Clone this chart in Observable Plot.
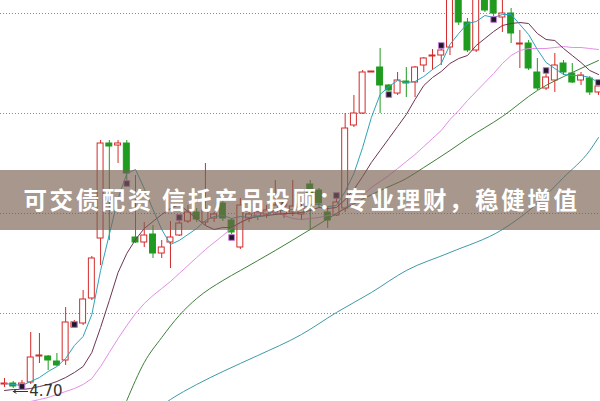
<!DOCTYPE html>
<html><head><meta charset="utf-8">
<script src="https://cdn.jsdelivr.net/npm/d3@7"></script>
<script src="https://cdn.jsdelivr.net/npm/@observablehq/plot@0.6"></script>
<style>
html,body{margin:0;padding:0;background:#fff;}
#wrap{position:relative;width:600px;height:401px;overflow:hidden;}
#wrap svg{display:block;}
#banner{position:absolute;left:0;top:170px;width:600px;height:60px;background:rgba(120,95,80,0.65);display:flex;align-items:center;justify-content:center;}
#banner span{color:#fff;font-family:"Noto Sans CJK SC","Noto Sans",sans-serif;font-weight:700;font-size:23.5px;letter-spacing:2.6px;white-space:nowrap;margin-top:-2px;margin-left:3px;}
</style></head><body>
<div id="wrap"><div id="banner"><span>可交债配资 信托产品投顾：专业理财，稳健增值</span></div></div>
<script>
// daily candles, index 0..68
const opens = [4.74,4.75,4.73,4.76,5.02,5.02,4.97,4.98,5.31,5.35,
  5.60,6.20,7.15,7.13,7.15,6.21,6.16,6.24,6.05,6.16,
  6.23,6.37,6.46,6.36,6.40,6.55,6.38,6.11,6.40,6.42,
  6.44,6.46,6.44,6.46,6.44,6.74,6.68,6.46,6.43,6.50,
  7.33,7.45,7.86,7.91,7.73,7.65,7.77,7.76,7.93,8.02,
  8.03,8.11,8.63,8.36,8.08,8.68,8.58,8.41,8.45,8.14,
  8.15,7.86,7.70,7.78,7.95,7.85,7.78,7.80,7.66];
const highs = [4.80,4.77,4.78,5.26,5.25,5.03,5.05,5.51,5.38,5.68,
  6.02,7.18,7.18,7.18,7.18,6.83,6.36,6.33,6.18,6.37,
  6.39,6.53,6.50,6.95,6.46,6.65,6.40,6.60,6.48,6.50,
  6.53,6.78,6.53,6.78,6.55,6.78,6.70,6.51,6.63,7.45,
  7.63,7.88,7.87,8.10,7.74,7.86,7.91,7.92,8.01,8.09,
  8.10,8.83,8.73,8.40,8.73,8.78,8.63,8.58,8.50,8.28,
  8.18,8.00,7.86,8.05,7.98,7.95,7.86,7.82,7.78];
const lows = [4.71,4.70,4.71,4.74,4.95,4.88,4.92,4.93,5.30,5.33,
  5.58,5.93,6.18,6.95,6.78,6.15,6.11,6.00,6.00,5.90,
  6.22,6.35,6.36,6.33,6.36,6.37,6.24,6.09,6.36,6.38,
  6.40,6.43,6.40,6.42,6.38,6.28,6.51,6.30,6.42,6.46,
  7.31,7.44,7.86,7.45,7.67,7.63,7.61,7.61,7.86,7.88,
  7.93,8.03,8.33,8.06,8.06,8.46,8.42,8.26,8.15,7.90,
  7.88,7.68,7.68,7.66,7.83,7.75,7.73,7.63,7.63];
const closes = [4.75,4.72,4.75,5.01,5.03,4.98,4.93,5.36,5.36,5.59,
  6.00,7.15,7.12,7.15,6.85,6.16,6.23,6.05,6.11,6.21,
  6.35,6.46,6.39,6.48,6.44,6.40,6.26,6.53,6.44,6.46,
  6.48,6.53,6.48,6.52,6.50,6.65,6.55,6.38,6.56,7.30,
  7.45,7.86,7.87,7.73,7.68,7.78,7.75,7.91,8.00,8.03,
  8.08,8.68,8.36,8.08,8.66,8.48,8.45,8.45,8.25,8.15,
  7.90,7.70,7.81,7.93,7.86,7.76,7.83,7.66,7.72];

// moving averages
const ma5 = [4.75,4.74,4.73,4.77,4.81,4.87,4.92,5.00,5.13,5.22,
  5.44,5.88,6.24,6.60,6.85,6.89,6.70,6.49,6.29,6.14,
  6.18,6.24,6.30,6.38,6.42,6.43,6.40,6.42,6.41,6.42,
  6.43,6.49,6.48,6.49,6.50,6.54,6.54,6.52,6.53,6.67,
  6.85,7.11,7.41,7.64,7.72,7.78,7.76,7.77,7.82,7.89,
  7.95,8.14,8.25,8.35,8.37,8.43,8.41,8.44,8.44,8.34,
  8.24,8.09,7.96,7.90,7.84,7.83,7.83,7.81,7.76];
const ma10 = [4.68,4.69,4.69,4.70,4.72,4.74,4.77,4.81,4.86,4.92,
  5.06,5.31,5.58,5.86,6.05,6.19,6.30,6.37,6.44,6.50,
  6.54,6.47,6.40,6.33,6.29,6.31,6.31,6.36,6.40,6.42,
  6.43,6.44,6.45,6.45,6.46,6.48,6.51,6.50,6.51,6.59,
  6.69,6.82,6.96,7.08,7.20,7.32,7.44,7.59,7.73,7.81,
  7.87,7.95,8.00,8.03,8.13,8.20,8.27,8.33,8.35,8.36,
  8.35,8.25,8.19,8.18,8.10,8.03,7.96,7.88,7.84];
const ma20 = [4.53,4.54,4.55,4.57,4.59,4.61,4.64,4.67,4.70,4.74,
  4.80,4.92,5.06,5.20,5.33,5.45,5.55,5.63,5.70,5.77,
  5.85,5.93,6.01,6.09,6.16,6.23,6.30,6.36,6.41,6.45,
  6.48,6.46,6.43,6.40,6.39,6.40,6.41,6.43,6.45,6.51,
  6.56,6.63,6.71,6.77,6.83,6.90,6.97,7.04,7.12,7.20,
  7.28,7.39,7.48,7.58,7.67,7.76,7.85,7.95,8.03,8.08,
  8.10,8.10,8.10,8.11,8.12,8.11,8.11,8.10,8.09];
const ma30Idx = [14,16,18,20,22,25,27,31,35,39,43,46,48,51,53,57,61,65,68];
const ma30 = [4.58,4.96,5.21,5.43,5.60,5.78,5.88,6.08,6.29,6.50,6.68,6.80,6.91,7.08,7.20,7.42,7.68,7.86,7.98];
const ma60Idx = [18,19,22,25,29,34,38,42,46,51,57,61,64,67,68];
const ma60 = [4.53,4.59,4.74,4.87,5.03,5.24,5.46,5.66,5.88,6.06,6.29,6.55,6.81,7.08,7.21];

// signal markers
const markIdx = [2,8,14,20,26,32,38,44,50,56,62,68];
const markVal = [4.72,5.34,6.75,6.41,6.21,6.55,6.63,7.64,8.13,8.39,7.88,7.76];

const gridVals = [5.45,6.45,7.45,8.45];
const lowLabel = "4.70";

const RED = "#d42a2a", GREEN = "#1f9b1f";
const rows = opens.map((o,i)=>({i, open:o, high:highs[i], low:lows[i], close:closes[i], up: closes[i] >= o}));
const toPts = (idx, vals) => vals.map((v,k)=>({i: idx ? idx[k] : k, v}));
const lowIdx = lows.indexOf(Math.min(...lows));
const lowV = lows[lowIdx];

const chart = Plot.plot({
  width: 600, height: 401, margin: 0,
  x: {domain: [-0.458, 68.23], axis: null},
  y: {domain: [4.57, 8.58], axis: null},
  color: {type: "identity"},
  marks: [
    Plot.ruleY(gridVals, {stroke: "#8a8a8a", strokeDasharray: "1,2", strokeWidth: 1}),
    Plot.ruleX(rows, {x: "i", y1: "low", y2: "high", stroke: d => d.up ? RED : GREEN, strokeWidth: 1, clip: true}),
    Plot.rect(rows, {x1: d => d.i - 0.34, x2: d => d.i + 0.34, y1: "open", y2: "close",
      fill: d => d.up ? "#fff" : GREEN, stroke: d => d.up ? RED : GREEN, strokeWidth: 1, clip: true}),
    Plot.line(toPts(null, ma20), {x: "i", y: "v", stroke: "#e48ee6", strokeWidth: 1, clip: true}),
    Plot.line(toPts(ma60Idx, ma60), {x: "i", y: "v", stroke: "#3f9aa6", strokeWidth: 1, curve: "monotone-x", clip: true}),
    Plot.line(toPts(ma30Idx, ma30), {x: "i", y: "v", stroke: "#3f7f3a", strokeWidth: 1, curve: "monotone-x", clip: true}),
    Plot.line(toPts(null, ma10), {x: "i", y: "v", stroke: "#6e3452", strokeWidth: 1, clip: true}),
    Plot.line(toPts(null, ma5), {x: "i", y: "v", stroke: "#2fa2b8", strokeWidth: 1, clip: true}),
    Plot.dot(toPts(markIdx, markVal), {x: "i", y: "v", symbol: "square", r: 3.2, fill: "#1d1a28", stroke: "#c77ad8", strokeWidth: 1}),
    Plot.arrow([{a: lowIdx + 1.65, b: lowIdx, v: lowV}], {x1: "a", x2: "b", y1: "v", y2: "v", dy: 3, stroke: "#333", strokeWidth: 1, headLength: 5}),
    Plot.text([{i: lowIdx, v: lowV}], {x: "i", y: "v", text: () => lowLabel, dx: 16, dy: 3, textAnchor: "start", fontSize: 15, fill: "#333", fontFamily: "DejaVu Sans, sans-serif"})
  ]
});
document.getElementById("wrap").prepend(chart);
</script>
</body></html>
